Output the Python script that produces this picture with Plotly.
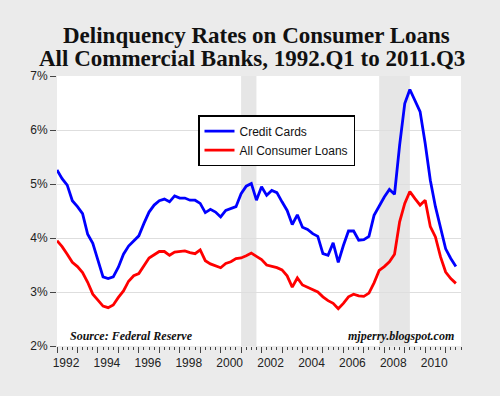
import plotly.graph_objects as go

# Quarterly periods 1992.Q1 .. 2011.Q3
start_year = 1992
n_quarters = 79
quarters = [start_year + i / 4 for i in range(n_quarters)]

credit_cards = [
    5.26, 5.10, 4.98, 4.69, 4.58, 4.45, 4.07, 3.90, 3.59, 3.28,
    3.25, 3.28, 3.46, 3.70, 3.85, 3.94, 4.04, 4.27, 4.48, 4.61,
    4.69, 4.72, 4.67, 4.78, 4.74, 4.74, 4.70, 4.70, 4.64, 4.47,
    4.53, 4.48, 4.39, 4.51, 4.54, 4.58, 4.82, 4.96, 5.01, 4.70,
    4.95, 4.79, 4.88, 4.84, 4.67, 4.51, 4.25, 4.43, 4.20, 4.16,
    4.08, 4.03, 3.71, 3.68, 3.91, 3.55, 3.86, 4.13, 4.13, 3.96,
    3.97, 4.03, 4.42, 4.59, 4.76, 4.90, 4.81, 5.72, 6.49, 6.75,
    6.53, 6.34, 5.75, 5.07, 4.58, 4.21, 3.80, 3.62, 3.47,
]

all_consumer = [
    3.95, 3.84, 3.70, 3.55, 3.47, 3.36, 3.18, 2.96, 2.85, 2.74,
    2.71, 2.76, 2.90, 3.02, 3.20, 3.30, 3.34, 3.49, 3.63, 3.69,
    3.75, 3.75, 3.68, 3.74, 3.75, 3.76, 3.73, 3.71, 3.78, 3.58,
    3.52, 3.48, 3.45, 3.53, 3.56, 3.62, 3.63, 3.67, 3.72, 3.66,
    3.60, 3.50, 3.48, 3.45, 3.41, 3.30, 3.09, 3.26, 3.13, 3.09,
    3.05, 3.00, 2.91, 2.84, 2.79, 2.69, 2.79, 2.91, 2.96, 2.93,
    2.92, 2.98, 3.17, 3.40, 3.47, 3.56, 3.70, 4.30, 4.64, 4.86,
    4.73, 4.61, 4.70, 4.21, 4.02, 3.65, 3.37, 3.25, 3.16,
]

recession_starts = [2001.0, 2007.75]
recession_ends = [2001.75, 2009.25]

year_ticks = list(range(1992, 2012))
year_labels = [str(y) if y % 2 == 0 else "" for y in year_ticks]
y_ticks = [2, 3, 4, 5, 6, 7]
y_labels = ["2%", "3%", "4%", "5%", "6%", "7%"]

fig = go.Figure()
fig.add_trace(go.Scatter(x=quarters, y=credit_cards, mode="lines", name="Credit Cards",
                         line=dict(color="#0000ff", width=2.8)))
fig.add_trace(go.Scatter(x=quarters, y=all_consumer, mode="lines", name="All Consumer Loans",
                         line=dict(color="#ff0000", width=2.8)))

for s, e in zip(recession_starts, recession_ends):
    fig.add_shape(type="rect", xref="x", yref="paper", x0=s, x1=e, y0=0, y1=1,
                  fillcolor="#e6e6e6", line=dict(width=0), layer="below")

PH = 269.5  # plot height in px (for paper-coordinate conversion)
def py(px):
    return (345.5 - px) / PH

serif = "Liberation Serif"
fig.add_annotation(text="<b>Delinquency Rates on Consumer Loans</b>", xref="paper", yref="paper",
                   x=(256 - 57) / 404, y=py(36), xanchor="center", yanchor="middle", showarrow=False,
                   font=dict(family=serif, size=23, color="#111111"))
fig.add_annotation(text="<b>All Commercial Banks, 1992.Q1 to 2011.Q3</b>", xref="paper", yref="paper",
                   x=(252 - 57) / 404, y=py(59), xanchor="center", yanchor="middle", showarrow=False,
                   font=dict(family=serif, size=23, color="#111111"))
fig.add_annotation(text="<b><i>Source: Federal Reserve</i></b>", xref="paper", yref="paper",
                   x=(68 - 57) / 404, xanchor="left", y=py(336), yanchor="middle", showarrow=False,
                   font=dict(family=serif, size=12, color="#111111"))
fig.add_annotation(text="<b><i>mjperry.blogspot.com</i></b>", xref="paper", yref="paper",
                   x=(456 - 57) / 404, xanchor="right", y=py(335.5), yanchor="middle", showarrow=False,
                   font=dict(family=serif, size=12, color="#111111"))

fig.update_layout(
    width=500, height=396,
    margin=dict(l=57, r=39, t=76, b=50, pad=0),
    paper_bgcolor="#ebebeb", plot_bgcolor="#ffffff",
    font=dict(family="Liberation Sans, Arial", size=12, color="#222222"),
    showlegend=True,
    legend=dict(x=(198 - 57) / 404, y=py(115), xanchor="left", yanchor="top",
                bgcolor="#ffffff", bordercolor="#000000", borderwidth=1.5,
                font=dict(family="Liberation Sans, Arial", size=12, color="#111111"),
                tracegroupgap=0, itemwidth=30),
    xaxis=dict(range=[1992, 2011.75], tickmode="array", tickvals=year_ticks, ticktext=year_labels,
               ticks="outside", ticklen=6, tickcolor="#444444", tickwidth=1,
               ticklabelshift=9, showgrid=False, zeroline=False, showline=False,
               tickfont=dict(size=12, color="#222222"),
               minor=dict(dtick=0.25, tick0=1992, ticks="outside", ticklen=3, tickcolor="#444444",
                          showgrid=False)),
    yaxis=dict(range=[2, 7], tickmode="array", tickvals=y_ticks, ticktext=y_labels,
               ticks="outside", ticklen=6, tickcolor="#444444", showgrid=True,
               gridcolor="#dedede", gridwidth=1, zeroline=False, showline=False,
               tickfont=dict(size=12, color="#222222")),
)

fig.write_html("out.html", config={"displayModeBar": False},
               post_script="document.body.style.margin='0';document.body.style.background='#ebebeb';")
